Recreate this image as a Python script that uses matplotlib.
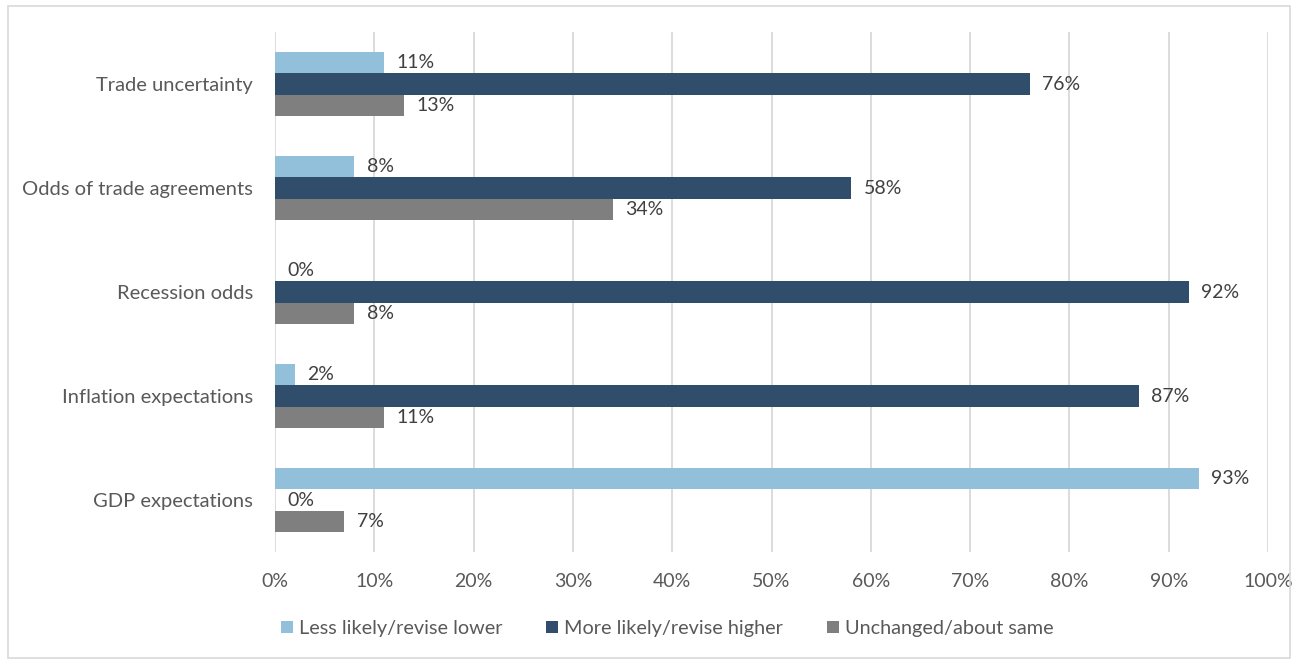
import matplotlib
matplotlib.use("Agg")
import matplotlib.pyplot as plt
import numpy as np
from matplotlib.patches import Rectangle

plt.rcParams['font.family'] = ['Lato', 'DejaVu Sans']

categories = ["Trade uncertainty", "Odds of trade agreements", "Recession odds",
              "Inflation expectations", "GDP expectations"]
series_names = ["Less likely/revise lower", "More likely/revise higher", "Unchanged/about same"]
less_likely = [11, 8, 0, 2, 93]
more_likely = [76, 58, 92, 87, 0]
unchanged = [13, 34, 8, 11, 7]
colors = ["#92C0DA", "#314D6C", "#7F7F7F"]
text_color = "#595959"

fig = plt.figure(figsize=(13.02, 6.6), dpi=100)
ax = fig.add_axes([0.2112, 0.1636, 0.7627, 0.7879])

y = np.arange(len(categories))
h = 0.203
series = [less_likely, more_likely, unchanged]
offsets = [-h, 0, h]
for vals, off, col, name in zip(series, offsets, colors, series_names):
    bars = ax.barh(y + off, vals, height=h, color=col, label=name, zorder=3)
    for b, v in zip(bars, vals):
        ax.annotate(f"{v}%", (b.get_width(), b.get_y() + b.get_height() / 2),
                    xytext=(9, 0), textcoords="offset points", ha="left", va="center",
                    fontsize=14, color="#404040")

ax.set_xlim(0, 100)
ax.set_ylim(len(categories) - 0.5, -0.5)
ax.set_yticks(y)
ax.set_yticklabels(categories, fontsize=14.5, color=text_color)
ax.set_xticks(np.arange(0, 101, 10))
ax.set_xticklabels([f"{t}%" for t in range(0, 101, 10)], fontsize=14, color=text_color)
ax.tick_params(axis="both", length=0)
ax.tick_params(axis="x", pad=15)
ax.tick_params(axis="y", pad=16)
ax.xaxis.grid(True, color="#D9D9D9", linewidth=1.3, zorder=0)
for s in ax.spines.values():
    s.set_visible(False)

leg = fig.legend(loc="center", bbox_to_anchor=(0.5125, 0.048), ncol=3, frameon=False,
                 fontsize=14.3, handlelength=0.6, handleheight=0.6, handletextpad=0.3,
                 columnspacing=2.2)
for t in leg.get_texts():
    t.set_color(text_color)

fig.patches.append(Rectangle((0.006, 0.003), 0.985, 0.988, transform=fig.transFigure,
                             fill=False, edgecolor="#D9D9D9", linewidth=1.2))

fig.savefig("out.png", dpi=100)
